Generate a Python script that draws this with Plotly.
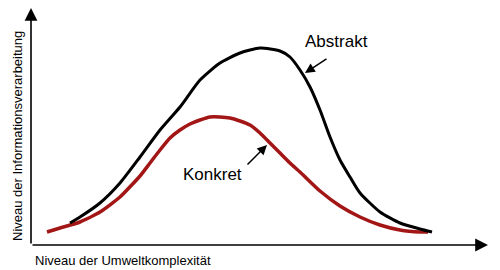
import plotly.graph_objects as go

# Abstract curve ("Abstrakt") - positions relative to the axes origin
abstrakt_x = [39, 49, 69, 89, 109, 129, 149, 169, 189, 209, 229, 249, 259, 269, 279, 289, 299, 309, 319, 329, 349, 369, 389, 401]
abstrakt_y = [22, 28, 42, 62, 88, 115, 138, 165, 182, 192, 197, 194, 188, 175, 158, 135, 108, 85, 68, 52, 33, 22, 16, 13]

# Concrete curve ("Konkret")
konkret_x = [16, 29, 49, 69, 89, 109, 119, 129, 139, 149, 159, 169, 179, 189, 199, 209, 219, 229, 239, 249, 259, 269, 289, 309, 329, 349, 369, 389, 397]
konkret_y = [13, 17, 23, 33, 48, 69, 82, 95, 107, 115, 121, 125, 128, 128, 127, 124, 120, 112, 102, 92, 82, 73, 54, 39, 28, 20, 15, 13, 13]

x_label = "Niveau der Umweltkomplexität"
y_label = "Niveau der Informationsverarbeitung"
x_axis_end = 457
y_axis_end = 237

FONT = "Liberation Sans, Arial, sans-serif"

fig = go.Figure()
fig.add_trace(go.Scatter(x=konkret_x, y=konkret_y, mode="lines",
                         line=dict(color="#a31616", width=3.5, shape="spline", smoothing=0.5),
                         hoverinfo="skip"))
fig.add_trace(go.Scatter(x=abstrakt_x, y=abstrakt_y, mode="lines",
                         line=dict(color="black", width=3, shape="spline", smoothing=0.6),
                         hoverinfo="skip"))

ann = []
# axes with arrows
ann.append(dict(x=0, y=y_axis_end, ax=0, ay=0, xref="x", yref="y", axref="x", ayref="y",
                showarrow=True, arrowhead=2, arrowsize=1.6, arrowwidth=1.6, arrowcolor="black", text=""))
ann.append(dict(x=x_axis_end, y=0, ax=0, ay=0, xref="x", yref="y", axref="x", ayref="y",
                showarrow=True, arrowhead=2, arrowsize=1.6, arrowwidth=1.6, arrowcolor="black", text=""))
# label arrows
ann.append(dict(x=274, y=172, ax=297, ay=187, xref="x", yref="y", axref="x", ayref="y",
                showarrow=True, arrowhead=2, arrowsize=1.3, arrowwidth=1.5, arrowcolor="black", text=""))
ann.append(dict(x=236, y=100, ax=215, ay=79, xref="x", yref="y", axref="x", ayref="y",
                showarrow=True, arrowhead=2, arrowsize=1.3, arrowwidth=1.5, arrowcolor="black", text=""))
# texts
ann.append(dict(x=305, y=204, xref="x", yref="y", text="Abstrakt", showarrow=False,
                font=dict(family=FONT, size=17, color="black")))
ann.append(dict(x=181, y=71, xref="x", yref="y", text="Konkret", showarrow=False,
                font=dict(family=FONT, size=17, color="black")))
ann.append(dict(x=2, y=-15, xref="x", yref="y", text=x_label, showarrow=False, xanchor="left",
                font=dict(family=FONT, size=13, color="black")))
ann.append(dict(x=-14, y=109, xref="x", yref="y", text=y_label, showarrow=False, textangle=-90,
                font=dict(family=FONT, size=13, color="black")))

fig.update_layout(
    width=500, height=270,
    margin=dict(l=0, r=0, t=0, b=0),
    paper_bgcolor="white", plot_bgcolor="white",
    showlegend=False,
    xaxis=dict(range=[-31, 469], visible=False, fixedrange=True),
    yaxis=dict(range=[-25, 245], visible=False, fixedrange=True),
    annotations=ann,
)
fig.write_html("out.html", config={"displayModeBar": False})
